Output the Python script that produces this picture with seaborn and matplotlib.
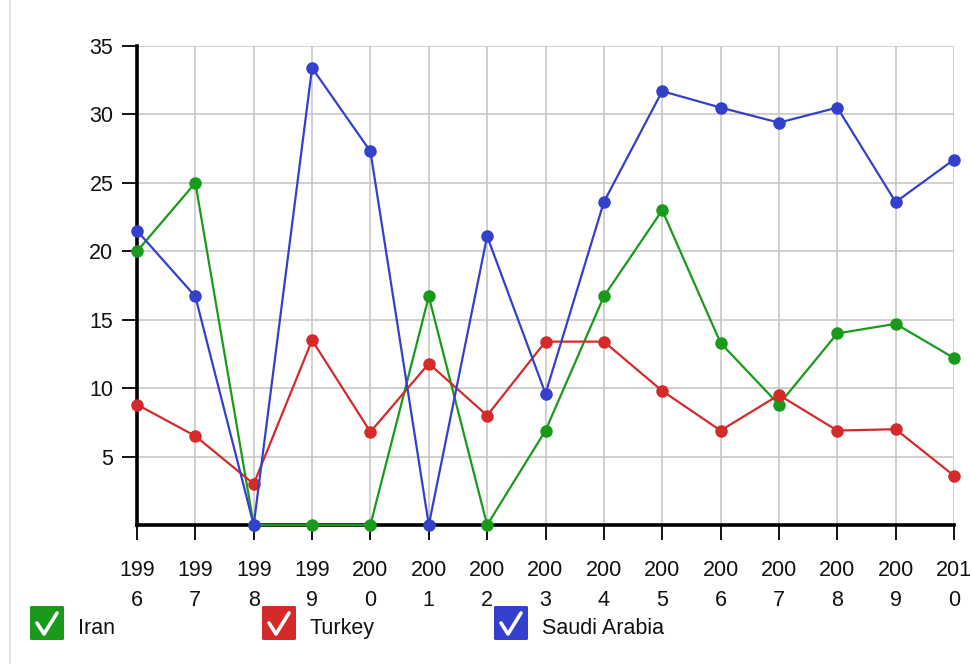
import matplotlib
matplotlib.use("Agg")
import matplotlib.pyplot as plt
from matplotlib.patches import FancyBboxPatch
from matplotlib.lines import Line2D
import seaborn as sns
import pandas as pd

# Yearly values per country
years = list(range(1996, 2011))
iran = [20.0, 25.0, 0.0, 0.0, 0.0, 16.7, 0.0, 6.9, 16.7, 23.0, 13.3, 8.8, 14.0, 14.7, 12.2]
turkey = [8.8, 6.5, 3.0, 13.5, 6.8, 11.8, 8.0, 13.4, 13.4, 9.8, 6.9, 9.5, 6.9, 7.0, 3.6]
saudi = [21.5, 16.7, 0.0, 33.4, 27.3, 0.0, 21.1, 9.6, 23.6, 31.7, 30.5, 29.4, 30.5, 23.6, 26.7]

series_names = ["Iran", "Turkey", "Saudi Arabia"]
series_colors = ["#1a9a1a", "#d42a2a", "#3340cc"]
y_ticks = [5, 10, 15, 20, 25, 30, 35]
x_tick_labels = [f"{str(y)[:3]}\n{str(y)[3:]}" for y in years]

df = pd.concat([
    pd.DataFrame({"year": years, "value": vals, "country": name})
    for name, vals in zip(series_names, [iran, turkey, saudi])
])

sns.set_theme(style="white")
plt.rcParams["font.family"] = ["Liberation Sans", "DejaVu Sans"]

fig = plt.figure(figsize=(9.71, 6.64), dpi=100)
ax = fig.add_axes([137 / 971, 1 - 525 / 664, (954 - 137) / 971, (525 - 46) / 664])

sns.lineplot(
    data=df, x="year", y="value", hue="country",
    hue_order=series_names, palette=series_colors,
    marker="o", markersize=9, markeredgewidth=0, linewidth=1.6,
    legend=False, ax=ax, clip_on=False,
)
for line in ax.lines:
    line.set_clip_on(False)

ax.set_xlim(1996, 2010)
ax.set_ylim(0, 35)
ax.set_xticks(years)
ax.set_xticklabels(x_tick_labels, linespacing=1.55)
ax.set_yticks(y_ticks)
ax.set_xlabel("")
ax.set_ylabel("")

ax.grid(True, color="#c8c8c8", linewidth=1.2)
ax.set_axisbelow(True)
for side in ["top", "right"]:
    ax.spines[side].set_visible(False)
for side in ["left", "bottom"]:
    ax.spines[side].set_color("black")
    ax.spines[side].set_linewidth(2.6)
    ax.spines[side].set_zorder(1.5)

ax.tick_params(axis="both", which="major", direction="out", length=11,
               width=1.3, color="black", labelsize=15.5, labelcolor="#111111",
               bottom=True, left=True)
ax.tick_params(axis="x", pad=14)
ax.tick_params(axis="y", pad=6)

# Overlay in pixel units for the page edge and the checkbox legend
ov = fig.add_axes([0, 0, 1, 1], zorder=-1)
ov.set_xlim(0, 971)
ov.set_ylim(664, 0)
ov.axis("off")
ov.add_line(Line2D([10, 10], [0, 664], color="#dddddd", linewidth=1.2))

lg = fig.add_axes([0, 0, 1, 1])
lg.set_xlim(0, 971)
lg.set_ylim(664, 0)
lg.axis("off")
legend_x = [30, 262, 494]
box = 34
box_top = 606
for x0, name, color in zip(legend_x, series_names, series_colors):
    lg.add_patch(FancyBboxPatch((x0 + 1.5, box_top + 1.5), box - 3, box - 3,
                                boxstyle="round,pad=1.5", facecolor=color,
                                edgecolor=color, linewidth=0))
    lg.add_line(Line2D([x0 + 7, x0 + 14, x0 + 27],
                       [box_top + 17, box_top + 28, box_top + 7],
                       color="white", linewidth=2.6, solid_capstyle="round",
                       solid_joinstyle="round"))
    lg.text(x0 + 48, box_top + 28, name, fontsize=15.5,
            color="#111111", va="baseline", ha="left")

fig.savefig("out.png", dpi=100, facecolor="white")
